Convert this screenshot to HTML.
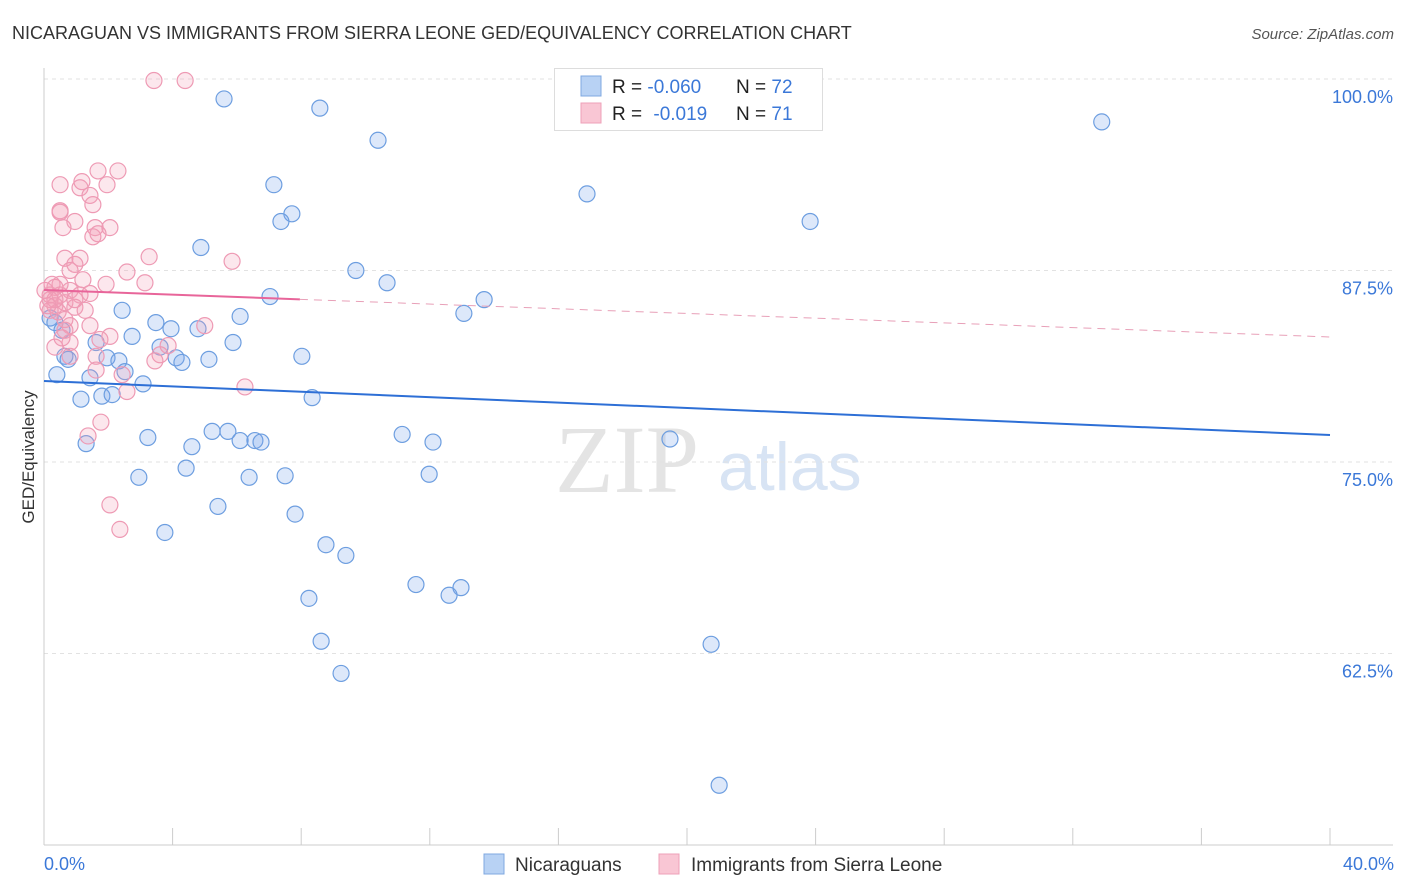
<!DOCTYPE html>
<html><head><meta charset="utf-8"><style>
body{margin:0;background:#fff;font-family:"Liberation Sans",sans-serif;}
#wrap{position:relative;width:1406px;height:892px;overflow:hidden;}
</style></head><body>
<div id="wrap">
<svg id="svg" width="1406" height="892">
<text x="12" y="39" font-size="18" fill="#333">NICARAGUAN VS IMMIGRANTS FROM SIERRA LEONE GED/EQUIVALENCY CORRELATION CHART</text>
<text x="1394" y="39" font-size="15" fill="#555" font-style="italic" text-anchor="end">Source: ZipAtlas.com</text>
<text x="555" y="492" font-size="96" fill="#e4e4e4" font-family="Liberation Serif">ZIP</text>
<text x="718" y="490" font-size="68" fill="#d8e4f4">atlas</text>
<g id="grid"></g><g id="axes"></g><g id="pts"></g><g id="trend"></g>
<text transform="translate(34,457) rotate(-90)" font-size="17" fill="#333" text-anchor="middle">GED/Equivalency</text>
<text x="44" y="870" font-size="18" fill="#3b78d8">0.0%</text>
<text x="1394" y="870" font-size="18" fill="#3b78d8" text-anchor="end">40.0%</text>
<g>
<rect x="554.5" y="68.5" width="268" height="62" fill="#fff" stroke="#ddd"/>
<rect x="581" y="76" width="20" height="20" fill="#b8d2f4" stroke="#7fa8e0"/>
<rect x="581" y="103" width="20" height="20" fill="#f9c6d4" stroke="#eea0b8"/>
<text x="612" y="93" font-size="19" fill="#222">R = <tspan fill="#3b78d8">-0.060</tspan></text>
<text x="736" y="93" font-size="19" fill="#222">N = <tspan fill="#3b78d8">72</tspan></text>
<text x="612" y="120" font-size="19" fill="#222">R = <tspan fill="#3b78d8" dx="6">-0.019</tspan></text>
<text x="736" y="120" font-size="19" fill="#222">N = <tspan fill="#3b78d8">71</tspan></text>
</g>
<g>
<rect x="484" y="854" width="20" height="20" fill="#b8d2f4" stroke="#7fa8e0"/>
<text x="515" y="871" font-size="19" fill="#333">Nicaraguans</text>
<rect x="659" y="854" width="20" height="20" fill="#f9c6d4" stroke="#eea0b8"/>
<text x="691" y="871" font-size="19" fill="#333">Immigrants from Sierra Leone</text>
</g>
</svg></div>
<script>
const yTicks=[100,87.5,75,62.5];
const yTickLabels=["100.0%","87.5%","75.0%","62.5%"];
const xTicks=[0,4,8,12,16,20,24,28,32,36,40];
const blueX=[5.6,8.58,10.39,32.9,16.89,7.15,7.71,7.37,23.83,4.88,9.7,10.67,7.03,13.69,13.06,2.43,6.1,3.48,3.95,4.79,2.74,1.62,5.88,3.61,8.02,0.65,1.96,2.33,4.11,4.29,5.13,0.75,2.52,0.4,1.43,3.08,8.34,1.8,2.12,1.15,3.23,5.23,5.72,6.1,6.56,6.75,4.6,11.14,12.1,19.47,1.31,4.42,2.95,6.38,7.5,11.98,5.41,7.81,3.76,8.77,9.39,11.57,12.97,12.6,8.24,8.62,20.75,9.24,21.0,0.19,0.34,0.56];
const blueY=[98.7,98.1,96.0,97.2,92.5,93.1,91.2,90.7,90.7,89.0,87.5,86.7,85.8,85.6,84.7,84.9,84.5,84.1,83.7,83.7,83.2,82.8,82.8,82.5,81.9,81.9,81.8,81.6,81.8,81.5,81.7,81.7,80.9,80.7,80.5,80.1,79.2,79.3,79.4,79.1,76.6,77.0,77.0,76.4,76.4,76.3,76.0,76.8,76.3,76.5,76.2,74.6,74.0,74.0,74.1,74.2,72.1,71.6,70.4,69.6,68.9,67.0,66.8,66.3,66.1,63.3,63.1,61.2,53.9,84.4,84.1,83.6];
const pinkX=[3.42,4.39,0.5,1.68,2.3,1.12,1.96,1.43,1.18,0.5,0.5,1.52,0.96,0.59,1.59,2.05,1.52,1.68,5.85,3.27,1.12,0.65,0.96,0.81,2.58,3.14,1.21,1.93,0.34,0.81,0.19,0.5,1.12,1.43,0.19,0.65,0.96,0.34,0.19,0.44,0.81,1.43,5.0,0.65,2.05,0.81,0.34,3.86,3.61,1.62,0.81,3.45,2.43,1.62,2.58,6.25,1.77,1.37,2.05,2.36,0.34,0.5,0.65,0.96,0.03,0.12,0.25,1.28,1.74,0.56];
const pinkY=[99.9,99.9,93.1,94.0,94.0,92.9,93.1,92.4,93.3,91.4,91.3,91.8,90.7,90.3,90.3,90.3,89.7,89.9,88.1,88.4,88.3,88.3,87.9,87.5,87.4,86.7,86.9,86.6,86.4,86.2,85.9,85.9,85.9,86.0,85.6,85.4,85.1,85.2,84.9,84.8,83.9,83.9,83.9,83.6,83.2,82.8,82.5,82.6,82.0,81.9,81.9,81.6,80.7,81.0,79.6,79.9,77.6,76.7,72.2,70.6,85.6,86.6,84.3,85.6,86.2,85.2,86.6,84.9,83.0,83.1];
const blueTrend=[80.29,76.76];
const pinkTrend=[86.23,83.16];
const pinkSolidEnd=7.96;

const X=v=>44+v*32.15, Y=v=>79+(100-v)*15.32;
const NS="http://www.w3.org/2000/svg";
function mk(tag,attrs,parent){const e=document.createElementNS(NS,tag);for(const k in attrs)e.setAttribute(k,attrs[k]);document.getElementById(parent).appendChild(e);return e;}
yTicks.forEach((t,i)=>{
 const l=mk('line',{x1:44,x2:1393,y1:Y(t),y2:Y(t),stroke:'#e2e2e2','stroke-dasharray':'4,4'},'grid');
 
 
 const tx=mk('text',{x:1393,y:Y(t)+24,'font-size':18,fill:'#3b78d8','text-anchor':'end'},'grid');
 tx.textContent=yTickLabels[i];
 
 
});
const ax=mk('line',{x1:44,x2:1393,y1:845,y2:845,stroke:'#ccc'},'axes');


const ay=mk('line',{x1:44,x2:44,y1:68,y2:845,stroke:'#ccc'},'axes');


xTicks.forEach(t=>{
 const l=mk('line',{x1:X(t),x2:X(t),y1:828,y2:845,stroke:'#ccc'},'axes');
 
 
});
function pts(xs,ys,fill,stroke,name){
 xs.forEach((x,i)=>{
  const c=mk('circle',{cx:X(x),cy:Y(ys[i]),r:8,fill:fill,stroke:stroke,'stroke-width':1.2},'pts');
  
  
 });
}
pts(blueX,blueY,'rgba(120,165,235,0.25)','#6d9ee0','nicaraguan-point');
pts(pinkX,pinkY,'rgba(245,160,185,0.25)','#ee9ab4','sierra-leone-point');
const bt=mk('line',{x1:X(0),y1:Y(blueTrend[0]),x2:X(40),y2:Y(blueTrend[1]),stroke:'#2d6fd6','stroke-width':2},'trend');


const py=x=>pinkTrend[0]+(pinkTrend[1]-pinkTrend[0])*x/40;
const ps=mk('line',{x1:X(0),y1:Y(pinkTrend[0]),x2:X(pinkSolidEnd),y2:Y(py(pinkSolidEnd)),stroke:'#e8659a','stroke-width':2},'trend');


const pd=mk('line',{x1:X(pinkSolidEnd),y1:Y(py(pinkSolidEnd)),x2:X(40),y2:Y(pinkTrend[1]),stroke:'#e8a0b8','stroke-width':1,'stroke-dasharray':'8,6'},'trend');


</script>
</body></html>
